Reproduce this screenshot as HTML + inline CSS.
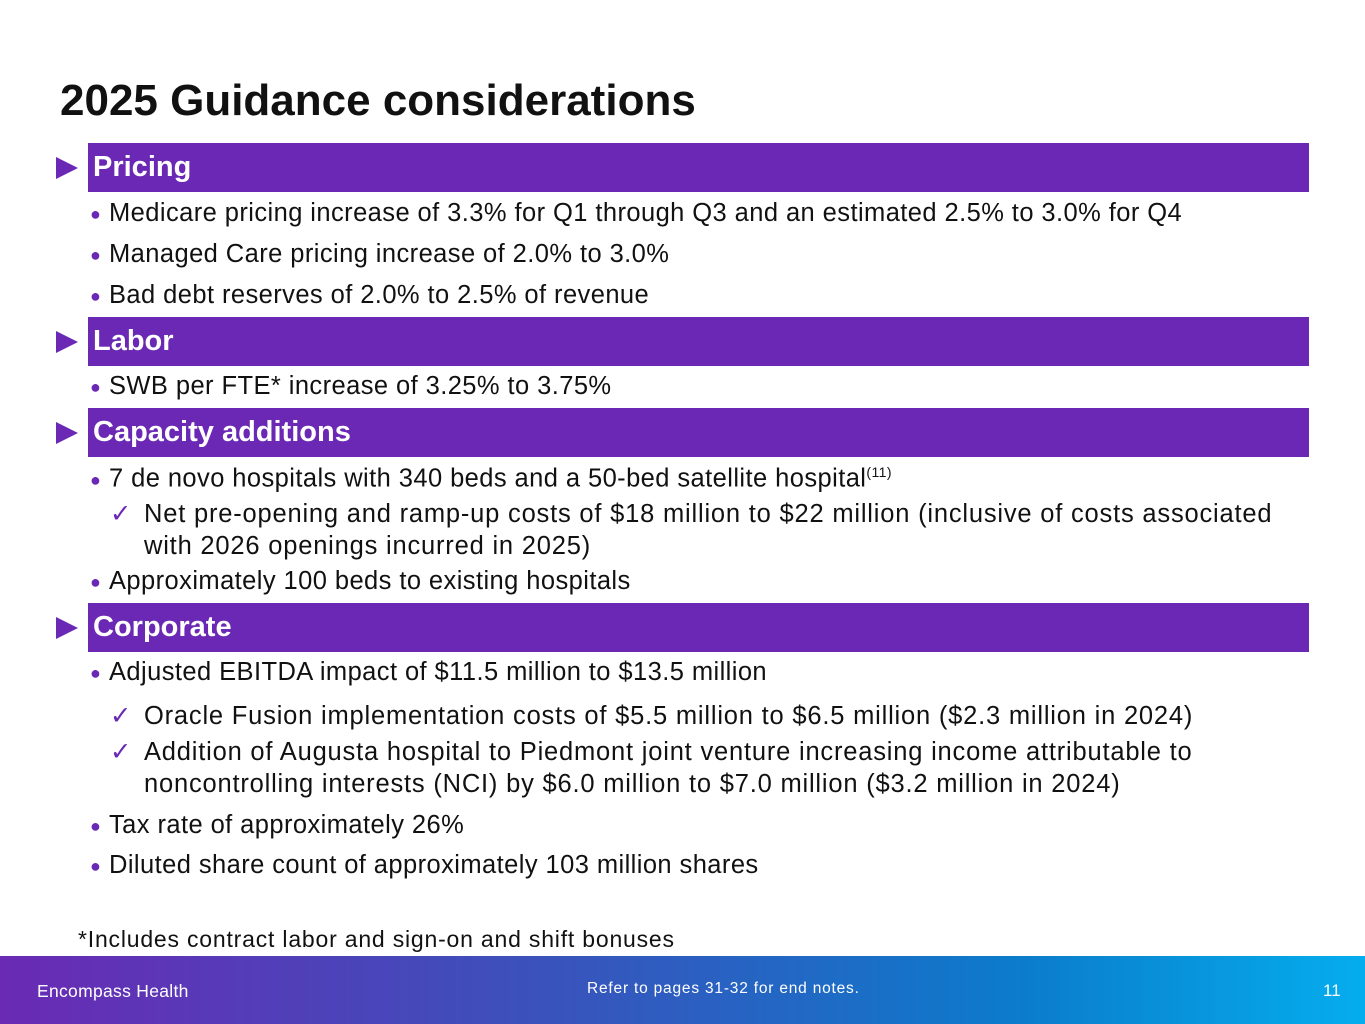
<!DOCTYPE html>
<html><head><meta charset="utf-8"><style>
body{margin:0;width:1365px;height:1024px;position:relative;overflow:hidden;background:#fff;font-family:"Liberation Sans",sans-serif;color:#111}
.a{position:absolute;white-space:nowrap}
.t{left:60px;top:76px;font-size:44px;font-weight:bold;color:#111}
.bar{position:absolute;left:88px;width:1221px;height:49px;background:#6a28b4;color:#fff;font-weight:bold;font-size:29px;line-height:49px;box-sizing:border-box;padding-left:5px}
.tri{position:absolute;left:56px;width:0;height:0;border-top:11px solid transparent;border-bottom:11px solid transparent;border-left:22px solid #6a28b4}
.l{position:absolute;left:90px;font-size:25.5px;letter-spacing:0.42px;line-height:30px;white-space:nowrap}
.l .d{color:#6a28b4;font-size:18px;display:inline-block;width:19px;vertical-align:1px;letter-spacing:0}
.c{position:absolute;left:110px;font-size:25.5px;letter-spacing:0.8px;line-height:32px;white-space:nowrap}
.c .k{display:inline-block;width:34px;color:#6a28b4;letter-spacing:0}
.foot{position:absolute;left:0;top:956px;width:1365px;height:68px;background:linear-gradient(90deg,#6a2ab4 0%,#3a52bc 40%,#0b7ccb 75%,#05adee 100%);color:#fff;font-size:17px}
</style></head><body>
<div class="a t">2025 Guidance considerations</div>

<div class="tri" style="top:157px"></div>
<div class="bar" style="top:143px">Pricing</div>
<div class="l" style="top:198px"><span class="d">●</span>Medicare pricing increase of 3.3% for Q1 through Q3 and an estimated 2.5% to 3.0% for Q4</div>
<div class="l" style="top:239px"><span class="d">●</span>Managed Care pricing increase of 2.0% to 3.0%</div>
<div class="l" style="top:280px"><span class="d">●</span>Bad debt reserves of 2.0% to 2.5% of revenue</div>

<div class="tri" style="top:331px"></div>
<div class="bar" style="top:317px">Labor</div>
<div class="l" style="top:371px"><span class="d">●</span>SWB per FTE* increase of 3.25% to 3.75%</div>

<div class="tri" style="top:422px"></div>
<div class="bar" style="top:408px">Capacity additions</div>
<div class="l" style="top:457px"><span class="d">●</span>7 de novo hospitals with 340 beds and a 50-bed satellite hospital<sup style="font-size:14px">(11)</sup></div>
<div class="c" style="top:498px"><span class="k">✓</span>Net pre-opening and ramp-up costs of $18 million to $22 million (inclusive of costs associated<br><span class="k"></span>with 2026 openings incurred in 2025)</div>
<div class="l" style="top:566px"><span class="d">●</span>Approximately 100 beds to existing hospitals</div>

<div class="tri" style="top:617px"></div>
<div class="bar" style="top:603px">Corporate</div>
<div class="l" style="top:657px"><span class="d">●</span>Adjusted EBITDA impact of $11.5 million to $13.5 million</div>
<div class="c" style="top:700px"><span class="k">✓</span>Oracle Fusion implementation costs of $5.5 million to $6.5 million ($2.3 million in 2024)</div>
<div class="c" style="top:736px"><span class="k">✓</span>Addition of Augusta hospital to Piedmont joint venture increasing income attributable to<br><span class="k"></span>noncontrolling interests (NCI) by $6.0 million to $7.0 million ($3.2 million in 2024)</div>
<div class="l" style="top:810px"><span class="d">●</span>Tax rate of approximately 26%</div>
<div class="l" style="top:850px"><span class="d">●</span>Diluted share count of approximately 103 million shares</div>

<div class="a" style="left:78px;top:926px;font-size:23px;letter-spacing:0.8px">*Includes contract labor and sign-on and shift bonuses</div>

<div class="foot">
<div class="a" style="left:37px;top:25px;font-size:17.5px;letter-spacing:0.3px">Encompass Health</div>
<div class="a" style="left:587px;top:24px;font-size:15.5px;letter-spacing:0.8px">Refer to pages 31-32 for end notes.</div>
<div class="a" style="left:1323px;top:25px">11</div>
</div>
</body></html>
